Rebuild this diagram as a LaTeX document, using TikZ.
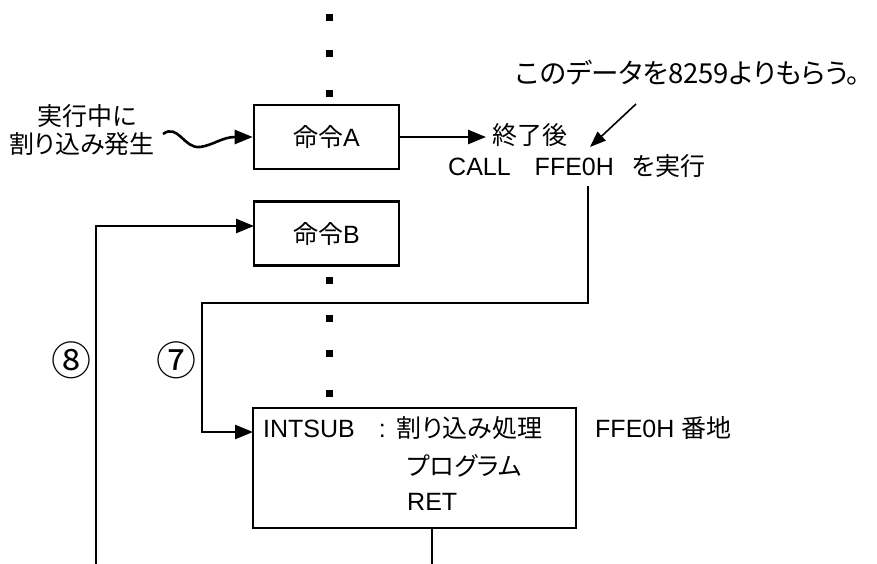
\documentclass[tikz,border=0pt]{standalone}
\usepackage{fontspec}
\setmainfont{Liberation Sans}
\newfontfamily\jp[RawFeature=+palt]{Noto Sans CJK JP}
\newfontfamily\jpc{Noto Sans CJK JP}
\usetikzlibrary{arrows.meta}
\tikzset{
  fs/.style={font=\fontsize{25}{30}\selectfont},
  box/.style={draw, line width=2.6pt, minimum width=145pt, minimum height=64pt, inner sep=0pt, fs},
  bigbox/.style={draw, line width=2.6pt, minimum width=323pt, minimum height=120pt, inner sep=0pt},
  conn/.style={line width=2.6pt, -{Triangle[length=18pt,width=14pt]}},
  plain/.style={line width=2.6pt},
  thinarrow/.style={line width=1.6pt, -{Triangle[length=16pt,width=12pt]}},
  dotsq/.style={rectangle, fill, minimum size=7pt, inner sep=0pt},
  lbl/.style={inner sep=0pt, fs},
  jlbl/.style={inner sep=0pt, font=\fontsize{25}{30}\selectfont\jp},
  circnum/.style={inner sep=0pt, font=\fontsize{40}{44}\selectfont\jpc},
}
\begin{document}
\begin{tikzpicture}[x=1pt,y=-1pt]
\useasboundingbox (0,0) rectangle (877,564);
% dots
\node[dotsq] (p1) at (329,18) {};
\node[dotsq] (p2) at (329,54) {};
\node[dotsq] (p3) at (329,94) {};
\node[dotsq] (p4) at (329,280) {};
\node[dotsq] (p5) at (329,318) {};
\node[dotsq] (p6) at (329,353) {};
\node[dotsq] (p7) at (329,393) {};
% boxes
\node[box] (A) at (326.5,137) {{\jp 命令}A};
\node[box] (B) at (326.5,233.5) {{\jp 命令}B};
\node[bigbox] (I) at (414.5,468) {};
% texts
\node[inner sep=0pt, font=\fontsize{27.5}{32}\selectfont\jp] (title) at (688,73) {このデータを8259よりもらう。};
\node[jlbl] (t1) at (87,116) {実行中に};
\node[jlbl] (t2) at (82,144) {割り込み発生};
\node[jlbl, anchor=west] (end) at (492,135) {終了後};
\node[lbl, anchor=west] (call) at (448,166) {CALL\hspace{24pt}FFE0H\hspace{18pt}{\jp を実行}};
\node[lbl, anchor=west] (r1) at (263,428) {INTSUB\hspace{24pt}:\hspace{11pt}{\jp 割り込み処理}};
\node[jlbl, anchor=west] (r2) at (407,466) {プログラム};
\node[lbl, anchor=west] (r3) at (407,502) {RET};
\node[lbl, anchor=west] (addr) at (595,428) {FFE0H {\jp 番地}};
\node[circnum] (n7) at (176,360) {⑦};
\node[circnum] (n8) at (71,360) {⑧};
% coordinates
\coordinate (w0) at (163,134);
\coordinate (aend) at (486,137);
\coordinate (d0) at (636,104);
\coordinate (d1) at (590,147);
\coordinate (s7) at (588,186);
\coordinate (c7) at (588,303);
\coordinate (e7) at (253,432);
\coordinate (s8) at (96,564);
\coordinate (e8) at (254,226);
\coordinate (r0) at (432,528);
\coordinate (r1e) at (432,564);
% connectors
\draw[conn] (w0) .. controls (178,123) and (184,149) .. (200,147) .. controls (214,145) and (222,137) .. (A.west);
\draw[conn] (A.east) -- (aend);
\draw[thinarrow] (d0) -- (d1);
\draw[conn] (s7) -- (c7) -- (202,303) |- (e7);
\draw[conn] (s8) |- (e8);
\draw[plain] (r0) -- (r1e);
\end{tikzpicture}
\end{document}
